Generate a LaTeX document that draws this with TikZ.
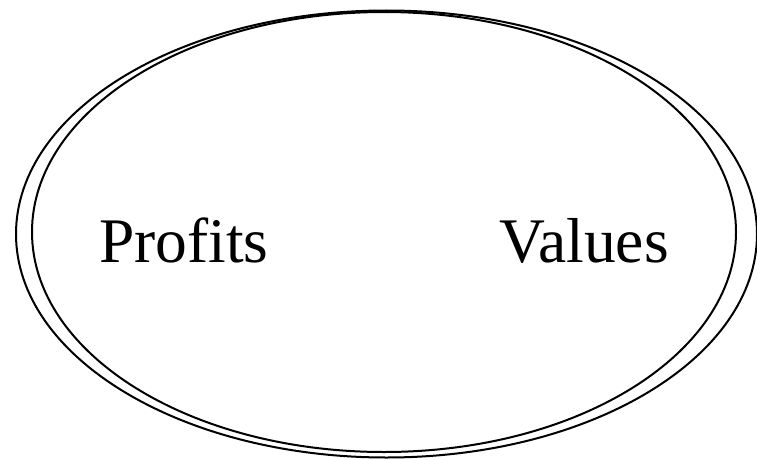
\documentclass[tikz,border=0pt]{standalone}
\usepackage{fontspec}
\setmainfont{Liberation Serif}
\begin{document}
\begin{tikzpicture}[x=1pt,y=-1pt,
  ring/.style={draw=black,line width=2pt},
  lbl/.style={anchor=base,inner sep=0pt,font=\fontsize{63.5}{70}\selectfont}]
\useasboundingbox (0,0) rectangle (757,460);
\draw[ring] (386.5,234) ellipse [x radius=370.5,y radius=223.5];
\draw[ring] (384,232) ellipse [x radius=352,y radius=220];
\node[lbl] (p) at (184,262) {Profits};
\node[lbl] (v) at (584,262) {Values};
\end{tikzpicture}
\end{document}
